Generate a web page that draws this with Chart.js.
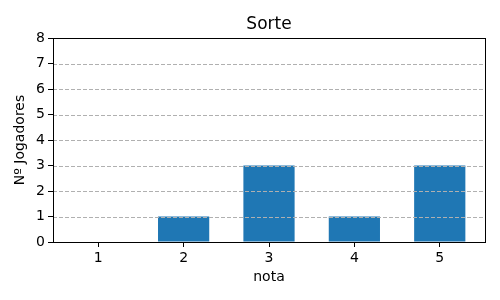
<!DOCTYPE html>
<html><head><meta charset="utf-8">
<script src="https://cdn.jsdelivr.net/npm/chart.js@4"></script>
<style>html,body{margin:0;padding:0;background:#fff}#w{width:500px;height:300px}</style>
</head><body><div id="w"><canvas id="c" width="500" height="300"></canvas></div>
<script>
const categories = [1, 2, 3, 4, 5];
const jogadores = [0, 1, 3, 1, 3];
const yTicks = [0, 1, 2, 3, 4, 5, 6, 7, 8];
const titleText = 'Sorte';
const xLabel = 'nota';
const yLabel = 'Nº Jogadores';

const FONT = 'DejaVu Sans';
Chart.defaults.font.family = FONT;
Chart.defaults.color = '#000';

const overlay = {
  id: 'overlay',
  afterDatasetsDraw(chart) {
    const {ctx, chartArea: a, scales: {y}} = chart;
    ctx.save();
    ctx.strokeStyle = '#b0b0b0';
    ctx.lineWidth = 1;
    ctx.setLineDash([4, 2]);
    y.ticks.forEach(t => {
      const py = Math.round(y.getPixelForValue(t.value)) + 0.5;
      ctx.beginPath(); ctx.moveTo(a.left, py); ctx.lineTo(a.right, py); ctx.stroke();
    });
    ctx.restore();
  },
  afterDraw(chart) {
    const {ctx, chartArea: a} = chart;
    ctx.save();
    ctx.strokeStyle = '#000';
    ctx.lineWidth = 1;
    ctx.strokeRect(Math.round(a.left) + 0.5, Math.round(a.top) + 0.5, Math.round(a.right - a.left), Math.round(a.bottom - a.top));
    ctx.restore();
  }
};

new Chart(document.getElementById('c'), {
  type: 'bar',
  data: {
    datasets: [{
      data: categories.map((c, i) => ({x: c, y: jogadores[i]})),
      backgroundColor: '#1f77b4',
      borderWidth: 0,
      barPercentage: 0.6,
      categoryPercentage: 1.0
    }]
  },
  options: {
    responsive: false,
    animation: false,
    layout: {padding: {left: 0, right: 15, top: 0, bottom: 0}},
    plugins: {
      legend: {display: false},
      tooltip: {enabled: false},
      title: {display: false}
    },
    scales: {
      x: {
        type: 'linear', min: 0.47, max: 5.53, offset: false,
        afterBuildTicks: s => { s.ticks = categories.map(v => ({value: v})); },
        afterFit: s => { s.height = 58; },
        grid: {offset: false, drawOnChartArea: false, drawTicks: true, tickLength: 5, color: '#000'},
        border: {display: true, color: '#000'},
        ticks: {font: {family: FONT, size: 14}, color: '#000', padding: 3, maxRotation: 0},
        title: {display: true, text: xLabel, color: '#000', font: {family: FONT, size: 14}, padding: {top: 14, bottom: 14}}
      },
      top: {
        type: 'linear', position: 'top', min: 0.47, max: 5.53, offset: false,
        afterFit: s => { s.height = 38; },
        grid: {display: false},
        border: {display: false},
        ticks: {display: false},
        title: {display: true, text: titleText, color: '#000', font: {family: FONT, size: 17}, padding: {top: 14, bottom: 4}}
      },
      y: {
        min: 0, max: 8,
        afterBuildTicks: s => { s.ticks = yTicks.map(v => ({value: v})); },
        afterFit: s => { s.width = 53; },
        grid: {drawOnChartArea: false, drawTicks: true, tickLength: 5, color: '#000'},
        border: {display: true, color: '#000'},
        ticks: {font: {family: FONT, size: 14}, color: '#000', padding: 3},
        title: {display: true, text: yLabel, color: '#000', font: {family: FONT, size: 14}, padding: {top: 12, bottom: 12}}
      }
    }
  },
  plugins: [overlay]
});
</script></body></html>
